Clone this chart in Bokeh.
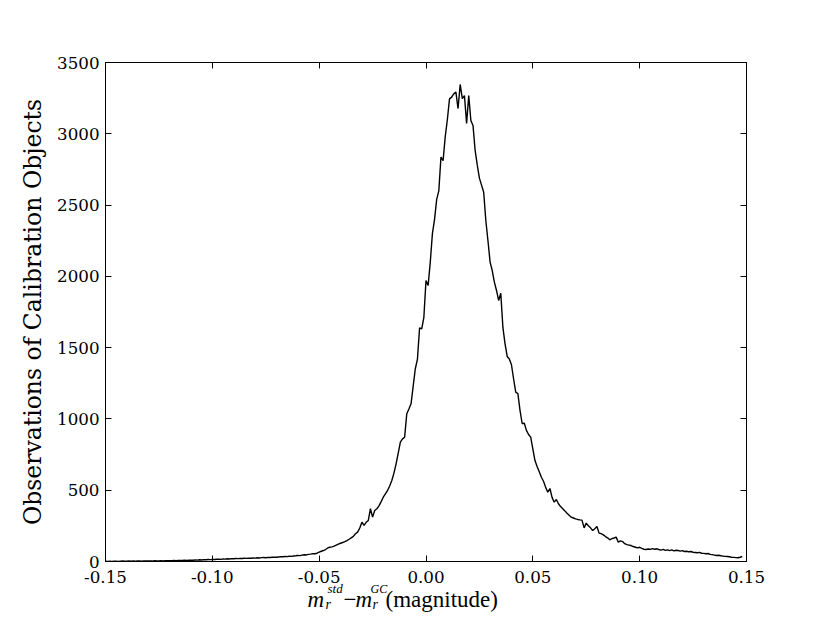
import numpy as np
from bokeh.plotting import figure
from bokeh.layouts import column
from bokeh.models import LinearAxis, FixedTicker, Range1d
from bokeh.core.properties import value
from bokeh.embed import file_html
from bokeh.resources import INLINE

# ---------------- data (histogram of magnitude differences) ----------------
bin_start = -0.150
bin_width = 0.001
counts_neg = [
    2, 1, 2, 1, 2, 2, 1, 2, 3, 2,
    2, 3, 2, 3, 2, 3, 3, 2, 4, 3,
    3, 4, 3, 5, 4, 4, 5, 4, 5, 6,
    5, 6, 7, 6, 7, 8, 7, 9, 8, 9,
    10, 9, 11, 10, 12, 11, 13, 12, 14, 13,
    15, 14, 16, 17, 15, 18, 17, 19, 18, 20,
    19, 21, 20, 22, 21, 23, 22, 24, 23, 25,
    24, 26, 25, 27, 28, 26, 29, 28, 30, 31,
    30, 32, 34, 33, 35, 34, 37, 36, 39, 40,
    42, 41, 45, 47, 46, 50, 52, 55, 54, 58,
    66, 72, 77, 84, 95, 100, 103, 108, 115, 122,
    128, 133, 139, 147, 156, 166, 176, 195, 206, 235,
    276, 253, 275, 288, 370, 311, 358, 370, 390, 420,
    451, 475, 498, 530, 568, 620, 685, 760, 837, 860,
    872, 1036, 1070, 1106, 1230, 1352, 1420, 1639, 1632, 1713,
]
counts_pos = [
    1971, 1936, 2100, 2300, 2400, 2540, 2600, 2836, 2812, 2980,
    3100, 3245, 3257, 3280, 3292, 3177, 3346, 3247, 3268, 3072,
    3268, 3093, 3058, 2883, 2780, 2689, 2640, 2590, 2392, 2250,
    2100, 2041, 1960, 1901, 1831, 1882, 1640, 1527, 1438, 1420,
    1380, 1280, 1188, 1178, 1060, 968, 970, 920, 891, 872,
    790, 708, 666, 630, 591, 563, 520, 486, 512, 450,
    416, 435, 405, 385, 370, 355, 339, 325, 311, 305,
    299, 295, 292, 290, 236, 269, 250, 236, 217, 230,
    245, 199, 195, 187, 175, 166, 152, 160, 165, 171,
    135, 145, 140, 125, 118, 115, 112, 105, 100, 95,
    100, 92, 86, 84, 88, 85, 90, 86, 89, 84,
    80, 85, 78, 82, 76, 81, 75, 79, 77, 73,
    76, 70, 72, 68, 70, 65, 63, 61, 64, 58,
    57, 54, 56, 50, 48, 45, 42, 44, 40, 38,
    36, 35, 33, 30, 29, 27, 26, 30, 35,
]
counts = counts_neg + counts_pos
bins = np.round(bin_start + bin_width * np.arange(len(counts)), 3)

x_ticks = [-0.15, -0.10, -0.05, 0.00, 0.05, 0.10, 0.15]
x_tick_labels = ["-0.15", "-0.10", "-0.05", "0.00", "0.05", "0.10", "0.15"]
y_ticks = [0, 500, 1000, 1500, 2000, 2500, 3000, 3500]
y_tick_labels = [str(v) for v in y_ticks]
x_lim = (-0.15, 0.15)
y_lim = (0, 3500)
y_title = "Observations of Calibration Objects"

# ---------------- geometry (page pixels) ----------------
W = 814
FL, FR, FT, FB = 105, 746, 62, 561          # frame edges
H1 = 593                                     # main figure height
OVERLAP = 18                                 # label strip pulled up under the tick labels
H2 = 45                                      # label strip height
STRIP_TOP = H1 - OVERLAP
TICK_FONT = "DejaVu Serif"
MATH_FONT = "Liberation Serif"

# ---------------- main figure ----------------
p = figure(width=W, height=H1, x_range=Range1d(*x_lim), y_range=Range1d(*y_lim),
           output_backend="svg", toolbar_location=None,
           min_border_left=FL, min_border_right=W - FR, min_border_top=FT,
           min_border_bottom=H1 - FB,
           background_fill_color="white", border_fill_color="white")
p.grid.visible = False
p.outline_line_color = "black"
p.outline_line_width = 1


def style_axis(ax, ticks, labels, show_labels=True, standoff=6):
    ax.ticker = FixedTicker(ticks=ticks)
    ax.major_label_overrides = {t: l for t, l in zip(ticks, labels)}
    ax.major_tick_in = 6
    ax.major_tick_out = 0
    ax.minor_tick_in = 0
    ax.minor_tick_out = 0
    ax.minor_tick_line_color = None
    ax.major_tick_line_color = "black"
    ax.axis_line_color = "black"
    ax.major_label_text_font = TICK_FONT
    if show_labels:
        ax.major_label_text_font_size = "16.7px"
        ax.major_label_text_color = "black"
        ax.major_label_standoff = standoff
    else:
        ax.major_label_text_font_size = "0px"
        ax.major_label_text_color = None
        ax.major_label_standoff = 0


style_axis(p.xaxis[0], x_ticks, x_tick_labels, standoff=9)
p.xaxis[0].axis_label = None
style_axis(p.yaxis[0], y_ticks, y_tick_labels)

yax = p.yaxis[0]
yax.axis_label = y_title
yax.axis_label_text_font = TICK_FONT
yax.axis_label_text_font_size = "23.5px"
yax.axis_label_text_font_style = "normal"
yax.axis_label_text_color = "black"
yax.axis_label_standoff = 7

top_ax = LinearAxis()
style_axis(top_ax, x_ticks, x_tick_labels, show_labels=False)
p.add_layout(top_ax, "above")
right_ax = LinearAxis()
style_axis(right_ax, y_ticks, y_tick_labels, show_labels=False)
p.add_layout(right_ax, "right")

p.line(bins, counts, line_color="black", line_width=1.4)

# ---------------- transparent strip below: x axis title ----------------
px_per_unit = (FR - FL) / (x_lim[1] - x_lim[0])
strip_y = Range1d(start=STRIP_TOP + H2, end=STRIP_TOP)   # y values are page pixels
q = figure(width=W, height=H2, x_range=Range1d(*x_lim), y_range=strip_y,
           output_backend="svg", toolbar_location=None,
           x_axis_location=None, y_axis_location=None,
           min_border_left=FL, min_border_right=W - FR, min_border_top=0,
           min_border_bottom=0,
           background_fill_color=None, border_fill_color=None,
           outline_line_color=None, margin=(-OVERLAP, 0, 0, 0))
q.grid.visible = False


def page_x(px):
    return x_lim[0] + (px - FL) / px_per_unit


pieces = [
    # text, page-x (left), page-baseline, size, style
    ("m", 307, 599, 23, "italic"),
    ("r", 325, 604, 14, "italic"),
    ("std", 327, 588, 13, "italic"),
    ("\u2212", 343, 599, 23, "normal"),
    ("m", 355, 599, 23, "italic"),
    ("r", 372, 604, 14, "italic"),
    ("GC", 370, 588, 12, "italic"),
    ("(magnitude)", 385, 599, 23, "normal"),
]
for txt, px, py, size, style in pieces:
    q.text(x=[page_x(px)], y=[py], text=[txt], text_align="left",
           text_baseline="alphabetic", text_font=value(MATH_FONT),
           text_font_size=value(f"{size}px"), text_font_style=style,
           text_color="black")

layout = column(p, q, spacing=0)
open("out.html", "w").write(file_html(layout, INLINE))
